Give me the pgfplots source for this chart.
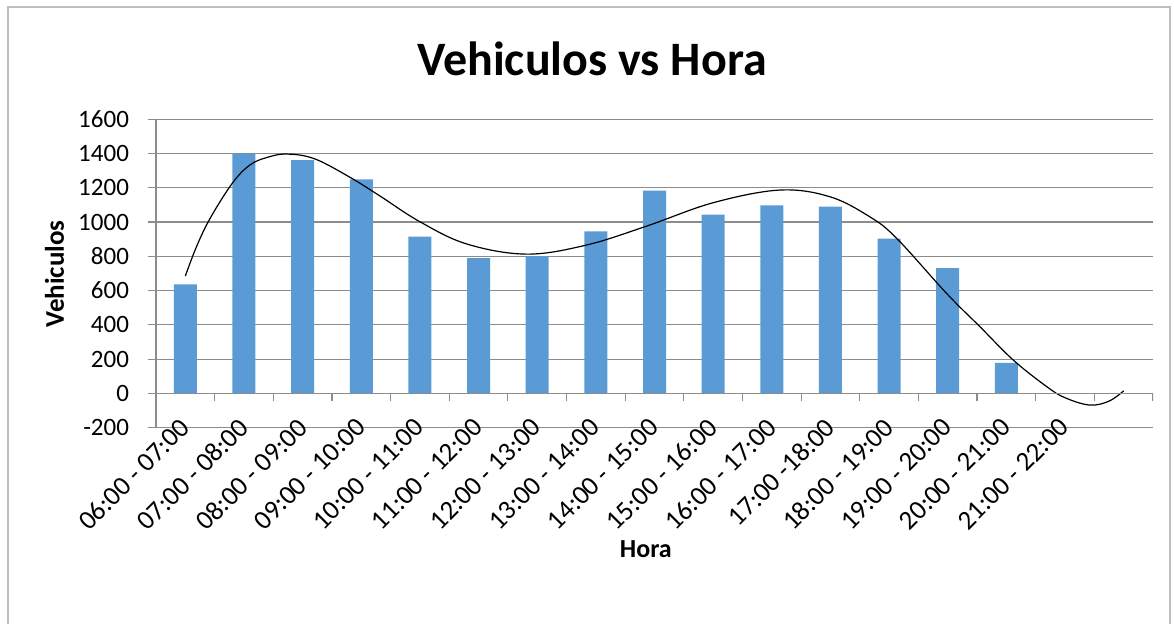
\documentclass[border=0pt]{standalone}
\usepackage{fontspec}
\setmainfont{Carlito}
\usepackage{pgfplots}
\pgfplotsset{compat=1.18}
\definecolor{barblue}{HTML}{5B9BD5}
\definecolor{gridgray}{HTML}{8C8C8C}
\definecolor{framegray}{HTML}{BFBFBF}

\begin{document}
\begin{tikzpicture}
\useasboundingbox (0,0) rectangle (587pt,312pt);
% chart frame
\draw[framegray, line width=0.6pt] (4pt,-5pt) -- (4pt,308.5pt) -- (585pt,308.5pt) -- (585pt,-5pt);

\begin{axis}[
    at={(78pt,98.15pt)}, anchor=south west,
    scale only axis,
    width=498.5pt, height=154.2pt,
    xmin=0.5, xmax=17.5,
    ymin=-200, ymax=1600,
    ytick distance=200,
    axis lines*=left,
    axis line style={gridgray, line width=0.6pt},
    ymajorgrids,
    grid style={gridgray, line width=0.6pt},
    tick align=outside,
    ytick style={gridgray, line width=0.6pt},
    major tick length=4pt,
    xtick={1,...,16},
    xtick style={draw=none},
    xticklabels={06:00 - 07:00, 07:00 - 08:00, 08:00 - 09:00, 09:00 - 10:00,
        10:00 - 11:00, 11:00 - 12:00, 12:00 - 13:00, 13:00 - 14:00,
        14:00 - 15:00, 15:00 - 16:00, 16:00 - 17:00, 17:00 -18:00,
        18:00 - 19:00, 19:00 - 20:00, 20:00 - 21:00, 21:00 - 22:00},
    xticklabel style={xshift=-3.5pt, yshift=14.5pt, rotate=45, anchor=north east,
        font=\fontsize{13.5}{15}\selectfont},
    yticklabel style={font=\fontsize{12.5}{14}\selectfont, xshift=-6pt},
    /pgf/number format/1000 sep={},
    /pgf/number format/assume math mode=true,
]
\addplot[ybar, bar width=11.5pt, fill=barblue, draw=none] coordinates {
    (1,636) (2,1400) (3,1362) (4,1250) (5,915) (6,790) (7,802) (8,946)
    (9,1183) (10,1043) (11,1098) (12,1090) (13,903) (14,732) (15,179) (16,0)
};
% polynomial trend line
\addplot[black, line width=0.6pt, smooth, tension=0.6, no marks] coordinates {
    (1.0,685) (1.19,856) (1.42,1020) (1.8,1226) (2.1,1333) (2.4,1378)
    (2.73,1397) (3.2,1370) (3.81,1261) (4.32,1152) (5.0,1002) (5.8,872)
    (6.82,813) (7.84,866) (8.87,977) (10.0,1113) (11.14,1187) (11.99,1148)
    (12.67,1031) (13.13,905) (13.98,584) (14.55,389) (15.12,194)
    (15.69,39) (16.0,-25) (16.42,-68) (16.75,-45) (17.0,15)
};
\draw[gridgray, line width=0.6pt] (axis cs:0.5,0) -- (axis cs:17.5,0);
\pgfplotsinvokeforeach{0,...,17}{
    \draw[gridgray, line width=0.6pt] (axis cs:#1+0.5,0) -- ([yshift=-4pt]axis cs:#1+0.5,0);
}
\end{axis}

\node[font=\fontsize{24}{28}\selectfont\bfseries] at (296pt,282.5pt) {Vehiculos vs Hora};
\node[font=\fontsize{13.5}{15}\selectfont\bfseries, rotate=90] at (27.3pt,175pt) {Vehiculos};
\node[font=\fontsize{13}{15}\selectfont\bfseries] at (322.9pt,37.5pt) {Hora};
\end{tikzpicture}
\end{document}
